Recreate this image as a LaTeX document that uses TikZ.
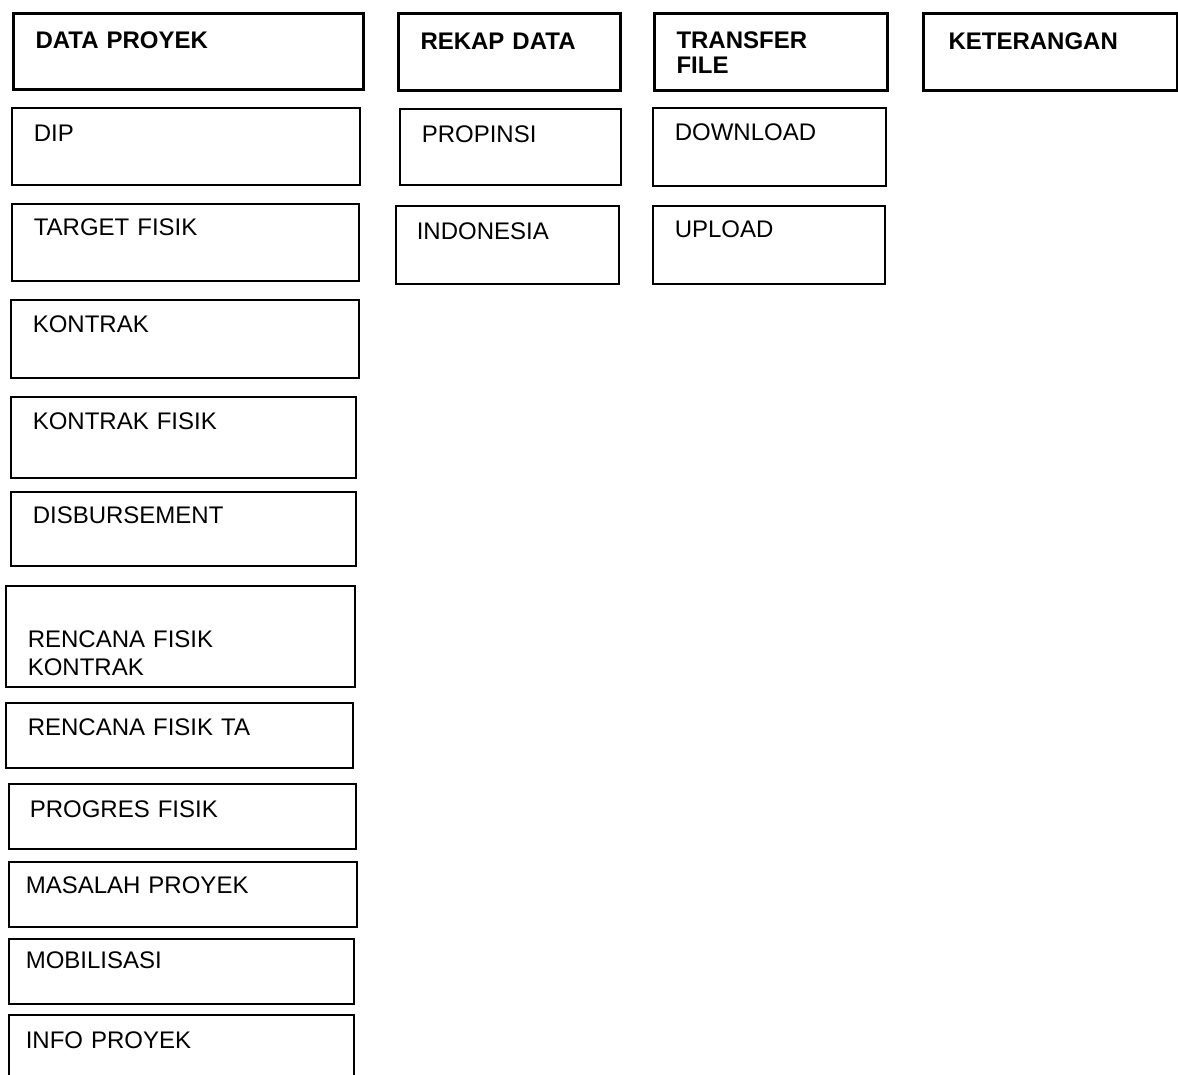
\documentclass[tikz,border=0pt]{standalone}
\usepackage{fontspec}
\setmainfont{Liberation Sans}

\begin{document}
\begin{tikzpicture}[
    x=1pt, y=-1pt,
    cell/.style = {rectangle, draw, line width=1.6pt, anchor=north west, inner xsep=22pt, inner ysep=0pt, align=left, text height=34pt, font=\fontsize{24}{28}\selectfont},
    head/.style = {cell, line width=3pt, font=\bfseries\fontsize{24}{25}\selectfont},
    colA/.style = {text width=303pt},
    colB/.style = {text width=178pt},
    colC/.style = {text width=189pt},
    colD/.style = {text width=204pt, inner xsep=25pt}]

    \useasboundingbox (0,0) rectangle (1178,1075);

    % header row
    \node[head, colA, text width=306pt, text height=35pt, text depth=41pt] (datap) at (12,12) {DATA PROYEK};
    \node[head, colB, text height=36pt, text depth=41pt] (rekap) at (397,12) {REKAP DATA};
    \node[head, colC, text height=35pt, text depth=42pt] (transfer) at (653,12) {TRANSFER\\FILE};
    \node[head, colD, text height=36pt, text depth=41pt] (ket) at (922,12) {KETERANGAN};

    % data proyek
    \node[cell, colA, text width=304pt, text depth=43pt] (dip) at (11,107) {DIP};
    \node[cell, colA, text height=32pt, text depth=45pt] (target) at (11,203) {TARGET FISIK};
    \node[cell, colA, text width=304pt, text height=33pt, text depth=45pt] (kontrak) at (10,299) {KONTRAK};
    \node[cell, colA, text width=301pt, text height=33pt, text depth=48pt] (kfisik) at (10,396) {KONTRAK FISIK};
    \node[cell, colA, text width=301pt, text height=32pt, text depth=42pt] (disb) at (10,491) {DISBURSEMENT};
    \node[cell, colA, text width=305pt, text height=62pt, text depth=39pt] (rkontrak) at (5,585) {RENCANA FISIK\\KONTRAK};
    \node[cell, colA, text height=33pt, text depth=32pt] (rta) at (5,702) {RENCANA FISIK TA};
    \node[cell, colA, text width=305pt, inner xsep=21pt, text depth=31pt] (progres) at (8,783) {PROGRES FISIK};
    \node[cell, colA, text width=314pt, inner xsep=17pt, text height=32pt, text depth=33pt] (masalah) at (8,861) {MASALAH PROYEK};
    \node[cell, colA, text width=311pt, inner xsep=17pt, text height=30pt, text depth=35pt] (mobil) at (8,938) {MOBILISASI};
    \node[cell, colA, text width=311pt, inner xsep=17pt, text depth=41pt] (info) at (8,1014) {INFO PROYEK};

    % rekap data
    \node[cell, colB, text width=177pt, text depth=42pt] (propinsi) at (399,108) {PROPINSI};
    \node[cell, colB, text width=181pt, inner xsep=21pt, text depth=44pt] (indonesia) at (395,205) {INDONESIA};

    % transfer file
    \node[cell, colC, text height=33pt, text depth=45pt] (download) at (652,107) {DOWNLOAD};
    \node[cell, colC, text width=188pt, text height=32pt, text depth=46pt] (upload) at (652,205) {UPLOAD};
\end{tikzpicture}
\end{document}
